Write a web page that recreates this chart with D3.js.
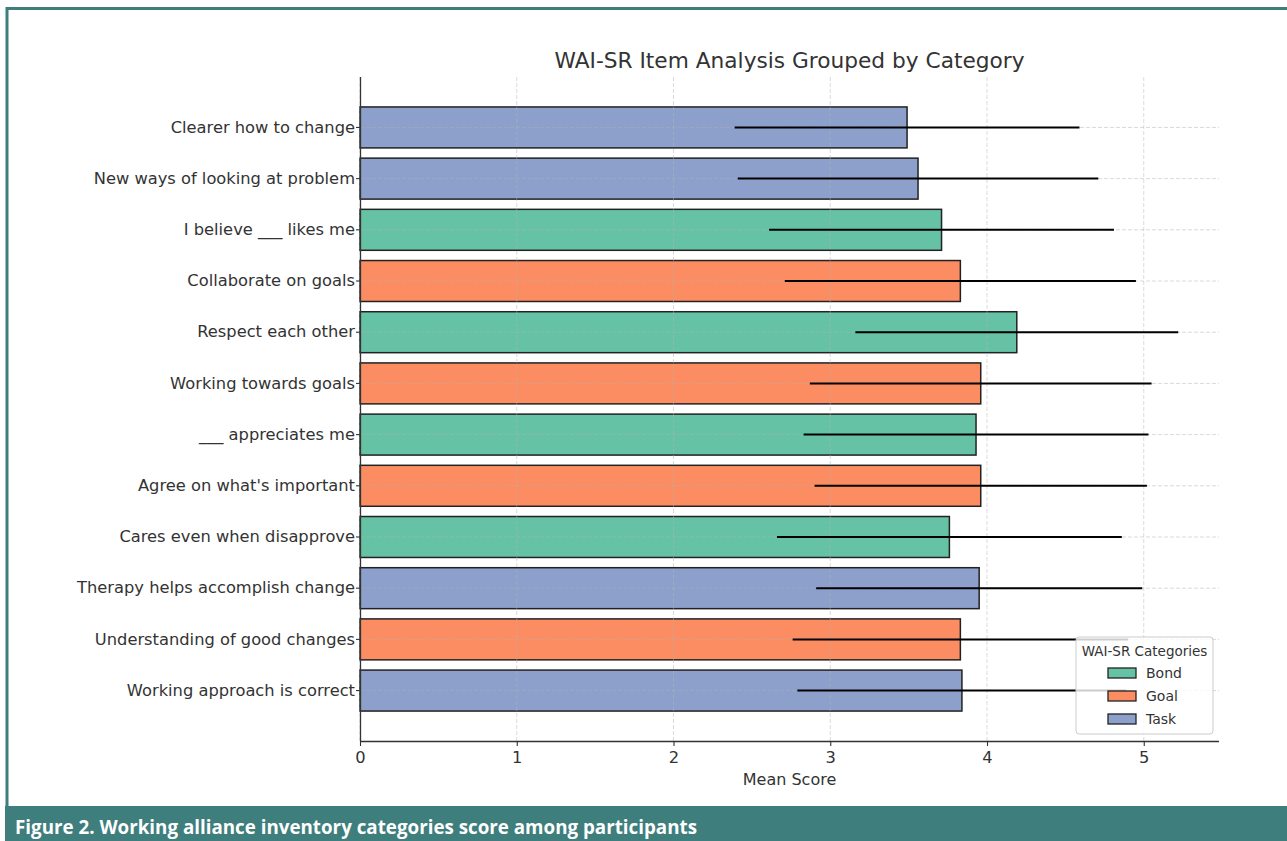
<!DOCTYPE html>
<html>
<head>
<meta charset="utf-8">
<script src="https://cdn.jsdelivr.net/npm/d3@7"></script>
<style>
  body { margin: 0; background: #fff; }
  svg text { font-family: "DejaVu Sans", sans-serif; fill: #333; }
</style>
</head>
<body>
<div id="chart"></div>
<script>
const width = 1287;
const height = 841;

// Data
const items = [
  "Clearer how to change",
  "New ways of looking at problem",
  "I believe ___ likes me",
  "Collaborate on goals",
  "Respect each other",
  "Working towards goals",
  "___ appreciates me",
  "Agree on what's important",
  "Cares even when disapprove",
  "Therapy helps accomplish change",
  "Understanding of good changes",
  "Working approach is correct"
];
const itemCategory = ["Task", "Task", "Bond", "Goal", "Bond", "Goal", "Bond", "Goal", "Bond", "Task", "Goal", "Task"];
const meanScores = [3.49, 3.56, 3.71, 3.83, 4.19, 3.96, 3.93, 3.96, 3.76, 3.95, 3.83, 3.84];
const sdScores = [1.10, 1.15, 1.10, 1.12, 1.03, 1.09, 1.10, 1.06, 1.10, 1.04, 1.07, 1.05];
const categories = ["Bond", "Goal", "Task"];
const catColors = ["#66c2a5", "#fc8d62", "#8da0cb"];
const xTicks = [0, 1, 2, 3, 4, 5];

const data = items.map((d, i) => ({ item: d, cat: itemCategory[i], mean: meanScores[i], sd: sdScores[i] }));

const svg = d3.select("#chart")
    .append("svg")
    .attr("width", width)
    .attr("height", height);

svg.append("rect").attr("width", width).attr("height", height).attr("fill", "#fff");

// Page frame + caption band
const teal = "#3e7e7c";
svg.append("line").attr("x1", 6).attr("x2", width).attr("y1", 8.5).attr("y2", 8.5)
    .attr("stroke", teal).attr("stroke-width", 3);
svg.append("line").attr("x1", 7).attr("x2", 7).attr("y1", 7).attr("y2", 806)
    .attr("stroke", teal).attr("stroke-width", 3);
svg.append("rect").attr("x", 5).attr("y", 806).attr("width", width - 5).attr("height", 35).attr("fill", teal);
svg.append("text")
    .attr("x", 15).attr("y", 834)
    .style("font-family", "'Open Sans', 'Noto Sans', sans-serif")
    .style("font-weight", "bold")
    .style("font-size", "20px")
    .style("fill", "#fff")
    .attr("textLength", 682)
    .attr("lengthAdjust", "spacingAndGlyphs")
    .text("Figure 2. Working alliance inventory categories score among participants");

// Scales
const x = d3.scaleLinear().domain([0, 5.48]).range([360, 1219]);
const y = d3.scaleBand().domain(items).range([77, 741]).paddingInner(0.2).paddingOuter(0.585);
const color = d3.scaleOrdinal().domain(categories).range(catColors);

// Bars
svg.append("g").selectAll("rect")
    .data(data)
  .enter().append("rect")
    .attr("x", x(0))
    .attr("y", d => y(d.item))
    .attr("width", d => x(d.mean) - x(0))
    .attr("height", y.bandwidth())
    .attr("fill", d => color(d.cat))
    .attr("stroke", "#222")
    .attr("stroke-width", 1.5);

// Grid (drawn above the bars, faint and dashed)
const grid = svg.append("g").attr("stroke", "#b0b0b0").attr("stroke-opacity", 0.6)
    .attr("stroke-dasharray", "4,2").attr("stroke-width", 0.8);
xTicks.forEach(t => {
    grid.append("line").attr("x1", x(t)).attr("x2", x(t)).attr("y1", 77).attr("y2", 741);
});
items.forEach(it => {
    const cy = y(it) + y.bandwidth() / 2;
    grid.append("line").attr("x1", 360).attr("x2", 1219).attr("y1", cy).attr("y2", cy);
});

// Error bars
svg.append("g").selectAll("line")
    .data(data)
  .enter().append("line")
    .attr("x1", d => x(d.mean - d.sd))
    .attr("x2", d => x(d.mean + d.sd))
    .attr("y1", d => y(d.item) + y.bandwidth() / 2)
    .attr("y2", d => y(d.item) + y.bandwidth() / 2)
    .attr("stroke", "#000")
    .attr("stroke-width", 2);

// Axes
const xAxis = svg.append("g")
    .attr("transform", "translate(0,741)")
    .call(d3.axisBottom(x).tickValues(xTicks).tickFormat(d3.format("d")).tickSizeOuter(0).tickSize(5).tickPadding(5));
const yAxis = svg.append("g")
    .attr("transform", "translate(360,0)")
    .call(d3.axisLeft(y).tickSizeOuter(0).tickSize(4).tickPadding(1));
[xAxis, yAxis].forEach(a => {
    a.select(".domain").attr("stroke", "#333").attr("stroke-width", 1.3);
    a.selectAll(".tick line").attr("stroke", "#333").attr("stroke-width", 1.1);
    a.selectAll(".tick text").style("font-size", "16.3px").style("font-family", "'DejaVu Sans', sans-serif").attr("fill", "#333");
});
xAxis.select(".domain").attr("d", "M360,0.5H1219");
yAxis.select(".domain").attr("d", "M0.5,77V741");

// Titles
svg.append("text")
    .attr("x", (360 + 1219) / 2).attr("y", 68)
    .attr("text-anchor", "middle")
    .style("font-size", "21.7px")
    .text("WAI-SR Item Analysis Grouped by Category");
svg.append("text")
    .attr("x", (360 + 1219) / 2).attr("y", 785)
    .attr("text-anchor", "middle")
    .style("font-size", "16px")
    .text("Mean Score");

// Legend
const legend = svg.append("g").attr("transform", "translate(1076,637)");
legend.append("rect")
    .attr("width", 137).attr("height", 97).attr("rx", 3)
    .attr("fill", "#fff").attr("fill-opacity", 0.8)
    .attr("stroke", "#ccc").attr("stroke-width", 1);
legend.append("text")
    .attr("x", 68.5).attr("y", 19)
    .attr("text-anchor", "middle")
    .style("font-size", "13.5px")
    .text("WAI-SR Categories");
categories.forEach((c, i) => {
    const ly = 31 + i * 23;
    legend.append("rect")
        .attr("x", 32).attr("y", ly).attr("width", 28).attr("height", 10)
        .attr("fill", color(c)).attr("stroke", "#222").attr("stroke-width", 1.3);
    legend.append("text")
        .attr("x", 70).attr("y", ly + 10)
        .style("font-size", "14px")
        .text(c);
});
</script>
</body>
</html>
